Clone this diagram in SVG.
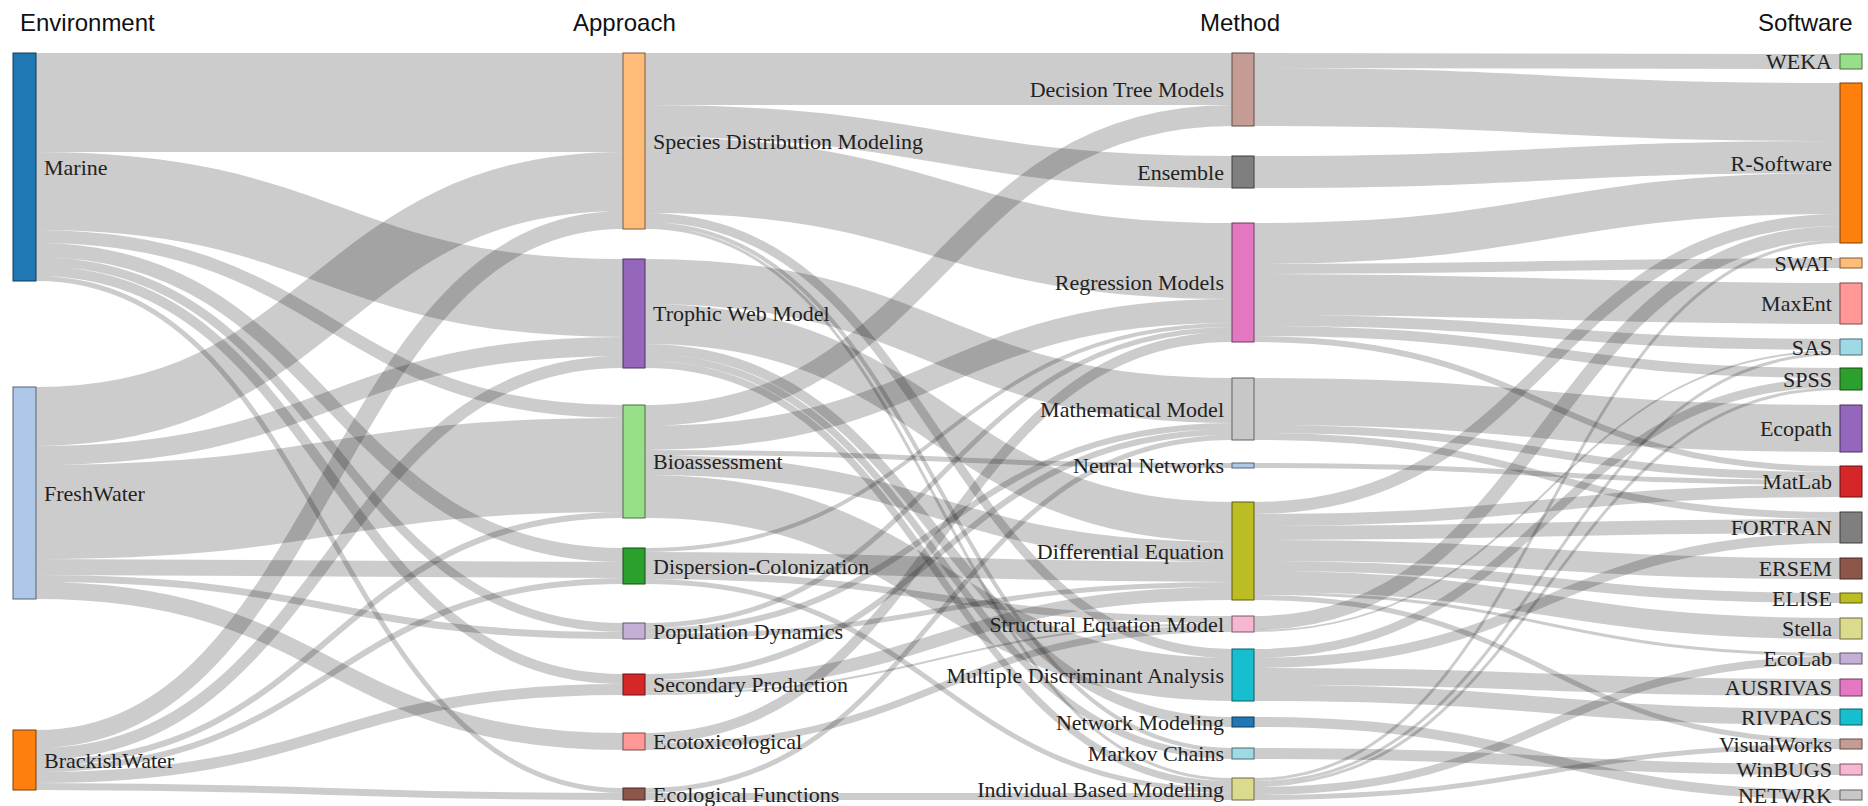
<svg xmlns="http://www.w3.org/2000/svg" width="1868" height="806" viewBox="0 0 1868 806">
<style>
.link{fill:none;stroke:#000;stroke-opacity:0.2}
.lbl{font-family:"Liberation Serif","Times New Roman",serif;font-size:22px;fill:#222}
.head{font-family:"Liberation Sans",Arial,sans-serif;font-size:24px;fill:#111}
.st{text-anchor:end}
rect{stroke-width:1}
</style>
<rect x="0" y="0" width="1868" height="806" fill="#fff" stroke="none"/>
<g id="headers">
<text class="head" x="20" y="31">Environment</text>
<text class="head" x="573" y="31">Approach</text>
<text class="head" x="1200" y="31">Method</text>
<text class="head" x="1758" y="31">Software</text>
</g>
<g id="links" class="link">
<path d="M36,102.5C329.5,102.5 329.5,102.5 623,102.5" stroke-width="99"/>
<path d="M36,191C329.5,191 329.5,298 623,298" stroke-width="78"/>
<path d="M36,236.5C329.5,236.5 329.5,411.5 623,411.5" stroke-width="13"/>
<path d="M36,250C329.5,250 329.5,555 623,555" stroke-width="14"/>
<path d="M36,261.5C329.5,261.5 329.5,627.5 623,627.5" stroke-width="9"/>
<path d="M36,271C329.5,271 329.5,679 623,679" stroke-width="10"/>
<path d="M36,278.5C329.5,278.5 329.5,790.5 623,790.5" stroke-width="5"/>
<path d="M36,416.5C329.5,416.5 329.5,181.5 623,181.5" stroke-width="59"/>
<path d="M36,455.5C329.5,455.5 329.5,346.5 623,346.5" stroke-width="19"/>
<path d="M36,512C329.5,512 329.5,465 623,465" stroke-width="94"/>
<path d="M36,567C329.5,567 329.5,570 623,570" stroke-width="16"/>
<path d="M36,578.5C329.5,578.5 329.5,635.5 623,635.5" stroke-width="7"/>
<path d="M36,590.5C329.5,590.5 329.5,741.5 623,741.5" stroke-width="17"/>
<path d="M36,739C329.5,739 329.5,220 623,220" stroke-width="18"/>
<path d="M36,754C329.5,754 329.5,362 623,362" stroke-width="12"/>
<path d="M36,763C329.5,763 329.5,515 623,515" stroke-width="6"/>
<path d="M36,769C329.5,769 329.5,581 623,581" stroke-width="6"/>
<path d="M36,777.5C329.5,777.5 329.5,689.5 623,689.5" stroke-width="11"/>
<path d="M36,786.5C329.5,786.5 329.5,796.5 623,796.5" stroke-width="7"/>

<path d="M645,79C938.5,79 938.5,79 1232,79" stroke-width="52"/>
<path d="M645,121C938.5,121 938.5,172 1232,172" stroke-width="32"/>
<path d="M645,175C938.5,175 938.5,261 1232,261" stroke-width="76"/>
<path d="M645,217.5C938.5,217.5 938.5,653.5 1232,653.5" stroke-width="9"/>
<path d="M645,224C938.5,224 938.5,750 1232,750" stroke-width="4"/>
<path d="M645,227.5C938.5,227.5 938.5,779.5 1232,779.5" stroke-width="3"/>
<path d="M645,281.5C938.5,281.5 938.5,400.5 1232,400.5" stroke-width="45"/>
<path d="M645,324C938.5,324 938.5,522 1232,522" stroke-width="40"/>
<path d="M645,349C938.5,349 938.5,722 1232,722" stroke-width="10"/>
<path d="M645,357.5C938.5,357.5 938.5,755.5 1232,755.5" stroke-width="7"/>
<path d="M645,364.5C938.5,364.5 938.5,784.5 1232,784.5" stroke-width="7"/>
<path d="M645,415.5C938.5,415.5 938.5,115.5 1232,115.5" stroke-width="21"/>
<path d="M645,438C938.5,438 938.5,311 1232,311" stroke-width="24"/>
<path d="M645,452.5C938.5,452.5 938.5,465.5 1232,465.5" stroke-width="5"/>
<path d="M645,465C938.5,465 938.5,552 1232,552" stroke-width="20"/>
<path d="M645,496.5C938.5,496.5 938.5,679.5 1232,679.5" stroke-width="43"/>
<path d="M645,550C938.5,550 938.5,325 1232,325" stroke-width="4"/>
<path d="M645,562C938.5,562 938.5,572 1232,572" stroke-width="20"/>
<path d="M645,575.5C938.5,575.5 938.5,619.5 1232,619.5" stroke-width="7"/>
<path d="M645,581.5C938.5,581.5 938.5,790.5 1232,790.5" stroke-width="5"/>
<path d="M645,625.5C938.5,625.5 938.5,329.5 1232,329.5" stroke-width="5"/>
<path d="M645,631C938.5,631 938.5,426 1232,426" stroke-width="6"/>
<path d="M645,636.5C938.5,636.5 938.5,584.5 1232,584.5" stroke-width="5"/>
<path d="M645,677C938.5,677 938.5,432 1232,432" stroke-width="6"/>
<path d="M645,686.5C938.5,686.5 938.5,593.5 1232,593.5" stroke-width="13"/>
<path d="M645,694C938.5,694 938.5,624 1232,624" stroke-width="2"/>
<path d="M645,738C938.5,738 938.5,337 1232,337" stroke-width="10"/>
<path d="M645,746.5C938.5,746.5 938.5,628.5 1232,628.5" stroke-width="7"/>
<path d="M645,790.5C938.5,790.5 938.5,437.5 1232,437.5" stroke-width="5"/>
<path d="M645,796.5C938.5,796.5 938.5,796.5 1232,796.5" stroke-width="7"/>

<path d="M1254,60.5C1547,60.5 1547,61.5 1840,61.5" stroke-width="15"/>
<path d="M1254,97C1547,97 1547,112 1840,112" stroke-width="58"/>
<path d="M1254,172C1547,172 1547,157 1840,157" stroke-width="32"/>
<path d="M1254,243.5C1547,243.5 1547,193.5 1840,193.5" stroke-width="41"/>
<path d="M1254,269C1547,269 1547,263 1840,263" stroke-width="10"/>
<path d="M1254,294.5C1547,294.5 1547,303.5 1840,303.5" stroke-width="41"/>
<path d="M1254,320.5C1547,320.5 1547,344.5 1840,344.5" stroke-width="11"/>
<path d="M1254,331C1547,331 1547,373 1840,373" stroke-width="10"/>
<path d="M1254,339C1547,339 1547,469 1840,469" stroke-width="6"/>
<path d="M1254,401.5C1547,401.5 1547,428.5 1840,428.5" stroke-width="47"/>
<path d="M1254,429C1547,429 1547,476 1840,476" stroke-width="8"/>
<path d="M1254,436.5C1547,436.5 1547,515.5 1840,515.5" stroke-width="7"/>
<path d="M1254,465.5C1547,465.5 1547,482.5 1840,482.5" stroke-width="5"/>
<path d="M1254,508C1547,508 1547,220 1840,220" stroke-width="12"/>
<path d="M1254,520C1547,520 1547,491 1840,491" stroke-width="12"/>
<path d="M1254,533C1547,533 1547,526 1840,526" stroke-width="14"/>
<path d="M1254,550.5C1547,550.5 1547,568.5 1840,568.5" stroke-width="21"/>
<path d="M1254,566C1547,566 1547,598 1840,598" stroke-width="10"/>
<path d="M1254,581.5C1547,581.5 1547,628.5 1840,628.5" stroke-width="21"/>
<path d="M1254,593.5C1547,593.5 1547,654.5 1840,654.5" stroke-width="3"/>
<path d="M1254,597.5C1547,597.5 1547,741.5 1840,741.5" stroke-width="5"/>
<path d="M1254,623C1547,623 1547,233 1840,233" stroke-width="14"/>
<path d="M1254,631C1547,631 1547,351 1840,351" stroke-width="2"/>
<path d="M1254,653.5C1547,653.5 1547,382.5 1840,382.5" stroke-width="9"/>
<path d="M1254,663C1547,663 1547,538 1840,538" stroke-width="10"/>
<path d="M1254,676.5C1547,676.5 1547,687.5 1840,687.5" stroke-width="17"/>
<path d="M1254,693C1547,693 1547,717 1840,717" stroke-width="16"/>
<path d="M1254,722C1547,722 1547,795 1840,795" stroke-width="10"/>
<path d="M1254,753.5C1547,753.5 1547,769.5 1840,769.5" stroke-width="11"/>
<path d="M1254,779.5C1547,779.5 1547,241.5 1840,241.5" stroke-width="3"/>
<path d="M1254,782.5C1547,782.5 1547,353.5 1840,353.5" stroke-width="3"/>
<path d="M1254,785.5C1547,785.5 1547,388.5 1840,388.5" stroke-width="3"/>
<path d="M1254,791C1547,791 1547,660 1840,660" stroke-width="8"/>
<path d="M1254,797.5C1547,797.5 1547,746.5 1840,746.5" stroke-width="5"/>
</g>

<g id="node-marine"><rect x="13" y="53" width="23" height="228" fill="#1f77b4" stroke="#0f3a58"/><text class="lbl" x="44" y="167" dy="0.35em">Marine</text></g>
<g id="node-freshwater"><rect x="13" y="387" width="23" height="212" fill="#aec7e8" stroke="#556272"/><text class="lbl" x="44" y="493" dy="0.35em">FreshWater</text></g>
<g id="node-brackishwater"><rect x="13" y="730" width="23" height="60" fill="#ff7f0e" stroke="#7d3e07"/><text class="lbl" x="44" y="760" dy="0.35em">BrackishWater</text></g>

<g id="node-sdm"><rect x="623" y="53" width="22" height="176" fill="#ffbb78" stroke="#7d5c3b"/><text class="lbl" x="653" y="141" dy="0.35em">Species Distribution Modeling</text></g>
<g id="node-trophic"><rect x="623" y="259" width="22" height="109" fill="#9467bd" stroke="#49335d"/><text class="lbl" x="653" y="313.5" dy="0.35em">Trophic Web Model</text></g>
<g id="node-bioassessment"><rect x="623" y="405" width="22" height="113" fill="#98df8a" stroke="#4b6d44"/><text class="lbl" x="653" y="461.5" dy="0.35em">Bioassessment</text></g>
<g id="node-dispersion"><rect x="623" y="548" width="22" height="36" fill="#2ca02c" stroke="#164e16"/><text class="lbl" x="653" y="566" dy="0.35em">Dispersion-Colonization</text></g>
<g id="node-population"><rect x="623" y="623" width="22" height="16" fill="#c5b0d5" stroke="#615668"/><text class="lbl" x="653" y="631" dy="0.35em">Population Dynamics</text></g>
<g id="node-secondary"><rect x="623" y="674" width="22" height="21" fill="#d62728" stroke="#691314"/><text class="lbl" x="653" y="684.5" dy="0.35em">Secondary Production</text></g>
<g id="node-ecotox"><rect x="623" y="733" width="22" height="17" fill="#ff9896" stroke="#7d4b4a"/><text class="lbl" x="653" y="741.5" dy="0.35em">Ecotoxicological</text></g>
<g id="node-ecofunctions"><rect x="623" y="788" width="22" height="12" fill="#8c564b" stroke="#452a25"/><text class="lbl" x="653" y="794" dy="0.35em">Ecological Functions</text></g>

<g id="node-decisiontree"><rect x="1232" y="53" width="22" height="73" fill="#c49c94" stroke="#604c49"/><text class="lbl st" x="1224" y="89.5" dy="0.35em">Decision Tree Models</text></g>
<g id="node-ensemble"><rect x="1232" y="156" width="22" height="32" fill="#7f7f7f" stroke="#3e3e3e"/><text class="lbl st" x="1224" y="172" dy="0.35em">Ensemble</text></g>
<g id="node-regression"><rect x="1232" y="223" width="22" height="119" fill="#e377c2" stroke="#6f3a5f"/><text class="lbl st" x="1224" y="282.5" dy="0.35em">Regression Models</text></g>
<g id="node-mathematical"><rect x="1232" y="378" width="22" height="62" fill="#c7c7c7" stroke="#626262"/><text class="lbl st" x="1224" y="409" dy="0.35em">Mathematical Model</text></g>
<g id="node-neural"><rect x="1232" y="463" width="22" height="5" fill="#aec7e8" stroke="#556272"/><text class="lbl st" x="1224" y="465.5" dy="0.35em">Neural Networks</text></g>
<g id="node-differential"><rect x="1232" y="502" width="22" height="98" fill="#bcbd22" stroke="#5c5d11"/><text class="lbl st" x="1224" y="551" dy="0.35em">Differential Equation</text></g>
<g id="node-sem"><rect x="1232" y="616" width="22" height="16" fill="#f7b6d2" stroke="#795967"/><text class="lbl st" x="1224" y="624" dy="0.35em">Structural Equation Model</text></g>
<g id="node-mda"><rect x="1232" y="649" width="22" height="52" fill="#17becf" stroke="#0b5d66"/><text class="lbl st" x="1224" y="675" dy="0.35em">Multiple Discriminant Analysis</text></g>
<g id="node-network"><rect x="1232" y="717" width="22" height="10" fill="#1f77b4" stroke="#0f3a58"/><text class="lbl st" x="1224" y="722" dy="0.35em">Network Modeling</text></g>
<g id="node-markov"><rect x="1232" y="748" width="22" height="11" fill="#9edae5" stroke="#4d6b70"/><text class="lbl st" x="1224" y="753.5" dy="0.35em">Markov Chains</text></g>
<g id="node-ibm"><rect x="1232" y="778" width="22" height="22" fill="#dbdb8d" stroke="#6b6b45"/><text class="lbl st" x="1224" y="789" dy="0.35em">Individual Based Modelling</text></g>

<g id="node-weka"><rect x="1840" y="54" width="22" height="15" fill="#98df8a" stroke="#4b6d44"/><text class="lbl st" x="1832" y="61.5" dy="0.35em">WEKA</text></g>
<g id="node-rsoftware"><rect x="1840" y="83" width="22" height="160" fill="#ff7f0e" stroke="#7d3e07"/><text class="lbl st" x="1832" y="163" dy="0.35em">R-Software</text></g>
<g id="node-swat"><rect x="1840" y="258" width="22" height="10" fill="#ffbb78" stroke="#7d5c3b"/><text class="lbl st" x="1832" y="263" dy="0.35em">SWAT</text></g>
<g id="node-maxent"><rect x="1840" y="283" width="22" height="41" fill="#ff9896" stroke="#7d4b4a"/><text class="lbl st" x="1832" y="303.5" dy="0.35em">MaxEnt</text></g>
<g id="node-sas"><rect x="1840" y="339" width="22" height="16" fill="#9edae5" stroke="#4d6b70"/><text class="lbl st" x="1832" y="347" dy="0.35em">SAS</text></g>
<g id="node-spss"><rect x="1840" y="368" width="22" height="22" fill="#2ca02c" stroke="#164e16"/><text class="lbl st" x="1832" y="379" dy="0.35em">SPSS</text></g>
<g id="node-ecopath"><rect x="1840" y="405" width="22" height="47" fill="#9467bd" stroke="#49335d"/><text class="lbl st" x="1832" y="428.5" dy="0.35em">Ecopath</text></g>
<g id="node-matlab"><rect x="1840" y="466" width="22" height="31" fill="#d62728" stroke="#691314"/><text class="lbl st" x="1832" y="481.5" dy="0.35em">MatLab</text></g>
<g id="node-fortran"><rect x="1840" y="512" width="22" height="31" fill="#7f7f7f" stroke="#3e3e3e"/><text class="lbl st" x="1832" y="527.5" dy="0.35em">FORTRAN</text></g>
<g id="node-ersem"><rect x="1840" y="558" width="22" height="21" fill="#8c564b" stroke="#452a25"/><text class="lbl st" x="1832" y="568.5" dy="0.35em">ERSEM</text></g>
<g id="node-elise"><rect x="1840" y="593" width="22" height="10" fill="#bcbd22" stroke="#5c5d11"/><text class="lbl st" x="1832" y="598" dy="0.35em">ELISE</text></g>
<g id="node-stella"><rect x="1840" y="618" width="22" height="21" fill="#dbdb8d" stroke="#6b6b45"/><text class="lbl st" x="1832" y="628.5" dy="0.35em">Stella</text></g>
<g id="node-ecolab"><rect x="1840" y="653" width="22" height="11" fill="#c5b0d5" stroke="#615668"/><text class="lbl st" x="1832" y="658.5" dy="0.35em">EcoLab</text></g>
<g id="node-ausrivas"><rect x="1840" y="679" width="22" height="17" fill="#e377c2" stroke="#6f3a5f"/><text class="lbl st" x="1832" y="687.5" dy="0.35em">AUSRIVAS</text></g>
<g id="node-rivpacs"><rect x="1840" y="709" width="22" height="16" fill="#17becf" stroke="#0b5d66"/><text class="lbl st" x="1832" y="717" dy="0.35em">RIVPACS</text></g>
<g id="node-visualworks"><rect x="1840" y="739" width="22" height="10" fill="#c49c94" stroke="#604c49"/><text class="lbl st" x="1832" y="744" dy="0.35em">VisualWorks</text></g>
<g id="node-winbugs"><rect x="1840" y="764" width="22" height="11" fill="#f7b6d2" stroke="#795967"/><text class="lbl st" x="1832" y="769.5" dy="0.35em">WinBUGS</text></g>
<g id="node-netwrk"><rect x="1840" y="790" width="22" height="10" fill="#c7c7c7" stroke="#626262"/><text class="lbl st" x="1832" y="795" dy="0.35em">NETWRK</text></g>
</svg>
